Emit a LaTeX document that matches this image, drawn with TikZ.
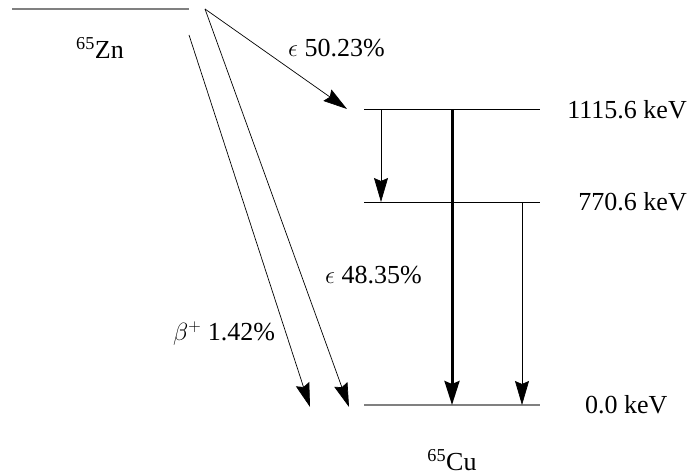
\documentclass[tikz,border=0pt]{standalone}
\usepackage{fontspec}
\setmainfont{Liberation Serif}
\usetikzlibrary{arrows.meta}
\begin{document}
\begin{tikzpicture}[x=1pt,y=-1pt,
  lvl/.style={line width=1pt},
  glvl/.style={line width=1.3pt,draw=gray},
  tr/.style={line width=0.7pt,-{Stealth[length=24pt,width=14pt,inset=3pt]}},
  thk/.style={line width=3pt,-{Stealth[length=24pt,width=15pt,inset=3pt]}},
  lab/.style={inner sep=0pt,font=\fontsize{26}{30}\selectfont}]
\useasboundingbox (0,0) rectangle (691,476);
% parent level
\coordinate (zna) at (12,9);
\coordinate (znb) at (189,9);
\draw[glvl] (zna) -- (znb);
\coordinate (zs) at (205,9);
\coordinate (bs) at (189,35);
% daughter levels
\coordinate (l1a) at (364,110); \coordinate (l1b) at (540,110);
\coordinate (l2a) at (364,202); \coordinate (l2b) at (540,202);
\coordinate (l0a) at (364,405); \coordinate (l0b) at (540,405);
\draw[lvl] (l1a) -- (l1b);
\draw[lvl] (l2a) -- (l2b);
\draw[glvl] (l0a) -- (l0b);
% feeding arrows
\coordinate (e1) at (347,109);
\coordinate (e2) at (349,407);
\coordinate (b1) at (310,407);
\draw[tr] (zs) -- (e1);
\draw[tr] (zs) -- (e2);
\draw[tr] (bs) -- (b1);
% gamma transitions
\coordinate (g1s) at (381,110); \coordinate (g1e) at (381,202);
\coordinate (g2s) at (452,110); \coordinate (g2e) at (452,405);
\coordinate (g3s) at (522,202); \coordinate (g3e) at (522,405);
\draw[tr] (g1s) -- (g1e);
\draw[thk] (g2s) -- (g2e);
\draw[tr] (g3s) -- (g3e);
% labels
\node[lab] (zn) at (100,48) {\textsuperscript{65}Zn};
\node[lab] (cu) at (452,460) {\textsuperscript{65}Cu};
\node[lab,anchor=east] (t1) at (687,110) {1115.6 keV};
\node[lab,anchor=east] (t2) at (687,202) {770.6 keV};
\node[lab,anchor=west] (t0) at (585,405) {0.0 keV};
\node[lab,anchor=west] (le1) at (288,48) {$\epsilon$ 50.23\%};
\node[lab,anchor=west] (le2) at (325,275) {$\epsilon$ 48.35\%};
\node[lab,anchor=west] (lb) at (173,334) {$\beta^{+}$ 1.42\%};
\end{tikzpicture}
\end{document}
